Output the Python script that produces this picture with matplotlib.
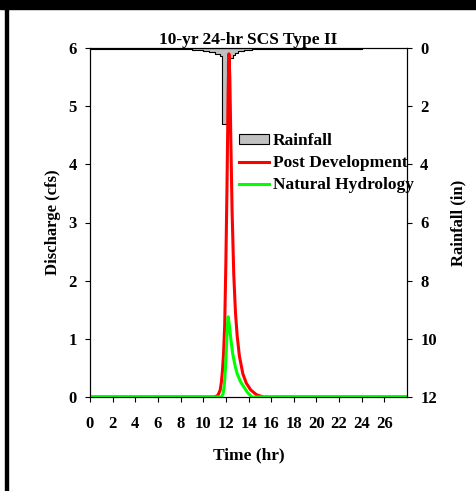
import matplotlib.pyplot as plt
from matplotlib.patches import Rectangle, Patch
from matplotlib.lines import Line2D

# rainfall hyetograph (in), value holds from each start time to the next
rain_t = [0, 2.0, 2.5, 3.0, 3.5, 8.0, 9.0, 10.0, 10.5, 11.0, 11.5, 11.7, 12.1, 12.3, 12.6, 12.8,
          13.1, 13.6, 14.3, 16.0, 18.0, 20.0, 24.0]
rain_in = [0.02, 0.05, 0.02, 0.05, 0.03, 0.04, 0.06, 0.1, 0.14, 0.2, 0.28, 2.6, 0.46, 0.35, 0.25, 0.18,
           0.12, 0.08, 0.05, 0.04, 0.03, 0.02, 0.0]

# post development hydrograph (cfs)
post_t = [0, 11.0, 11.3, 11.5, 11.6, 11.7, 11.8, 11.9, 12.0, 12.1, 12.2, 12.27, 12.35, 12.45, 12.55,
          12.7, 12.85, 13.0, 13.2, 13.5, 13.8, 14.2, 14.7, 15.3, 28]
post_q = [0, 0, 0.03, 0.12, 0.25, 0.45, 0.75, 1.25, 2.3, 3.6, 5.2, 5.9, 5.5, 4.3, 3.2,
          2.1, 1.45, 1.05, 0.7, 0.4, 0.24, 0.12, 0.04, 0, 0]

# natural hydrology hydrograph (cfs)
nat_t = [0, 11.6, 11.75, 11.85, 11.95, 12.05, 12.13, 12.2, 12.3, 12.45, 12.6, 12.8, 13.0, 13.3,
         13.6, 13.9, 14.3, 28]
nat_q = [0, 0, 0.05, 0.18, 0.45, 0.85, 1.2, 1.38, 1.25, 0.98, 0.75, 0.55, 0.4, 0.26,
         0.17, 0.08, 0, 0]

x_ticks = list(range(0, 28, 2))
q_ticks = [0, 1, 2, 3, 4, 5, 6]
r_ticks = [0, 2, 4, 6, 8, 10, 12]

plt.rcParams['font.family'] = ['Liberation Serif', 'DejaVu Serif']
plt.rcParams['font.weight'] = 'bold'

fig = plt.figure(figsize=(4.77, 4.91), dpi=100)
ax = fig.add_axes([90/477, 1 - 397/491, 317/477, 349/491])
ax2 = ax.twinx()

ax2.fill_between(rain_t, rain_in, 0, step='post', facecolor='#c0c0c0', edgecolor='black', linewidth=0.8)
ax2.set_ylim(12, 0)
ax2.set_yticks(r_ticks)
ax2.set_ylabel('Rainfall (in)', fontsize=12, fontweight='bold', labelpad=10)

ax.plot(post_t, post_q, color='#ff0000', linewidth=2.2, label='Post Development')
ax.plot(nat_t, nat_q, color='#00ff00', linewidth=2.2, label='Natural Hydrology')
ax.set_zorder(ax2.get_zorder() + 1)
ax.patch.set_visible(False)

ax.set_xlim(0, 28)
ax.set_ylim(0, 6)
ax.set_xticks(x_ticks)
ax.set_yticks(q_ticks)
ax.set_xlabel('Time (hr)', fontsize=12.5, fontweight='bold', labelpad=11)
ax.set_ylabel('Discharge (cfs)', fontsize=12, fontweight='bold', labelpad=5)
ax.set_title('10-yr 24-hr SCS Type II', fontsize=12.5, fontweight='bold', pad=-1)

for a in (ax, ax2):
    a.tick_params(direction='out', length=3.5, width=0.8, labelsize=12, pad=6)
    for s in a.spines.values():
        s.set_linewidth(0.8)
ax.tick_params(axis='x', pad=10)

handles = [Patch(facecolor='#c0c0c0', edgecolor='black', linewidth=0.8, label='Rainfall'),
           Line2D([], [], color='#ff0000', linewidth=2.2, label='Post Development'),
           Line2D([], [], color='#00ff00', linewidth=2.2, label='Natural Hydrology')]
ax.legend(handles=handles, loc='upper left', bbox_to_anchor=(0.47, 0.756), frameon=False,
          fontsize=12.5, handlelength=1.7, handleheight=0.55, handletextpad=0.25,
          labelspacing=0.35, borderaxespad=0, borderpad=0)

# black frame bits seen in the reference
fig.add_artist(Rectangle((0, 1 - 9/491), 1, 9/491, transform=fig.transFigure, color='black'))
fig.add_artist(Rectangle((5/477, 0), 3/477, 1, transform=fig.transFigure, color='black'))

fig.savefig('out.png', dpi=100)
